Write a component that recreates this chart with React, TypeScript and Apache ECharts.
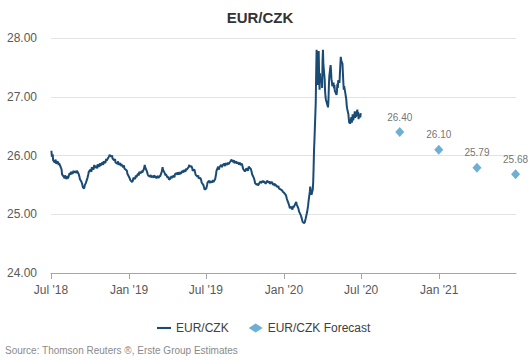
import React, { useEffect, useRef } from "react";
import * as echarts from "echarts";

const histDates: string[] = [
  "2018-07-02","2018-07-03","2018-07-05","2018-07-06","2018-07-10","2018-07-12","2018-07-13","2018-07-17","2018-07-19","2018-07-20",
  "2018-07-24","2018-07-26","2018-07-27","2018-07-31","2018-08-02","2018-08-03","2018-08-07","2018-08-09","2018-08-10","2018-08-14",
  "2018-08-16","2018-08-17","2018-08-21","2018-08-23","2018-08-24","2018-08-28","2018-08-30","2018-08-31","2018-09-04","2018-09-06",
  "2018-09-07","2018-09-11","2018-09-13","2018-09-14","2018-09-17","2018-09-19","2018-09-21","2018-09-25","2018-09-27","2018-09-28",
  "2018-10-02","2018-10-04","2018-10-05","2018-10-09","2018-10-11","2018-10-12","2018-10-16","2018-10-18","2018-10-19","2018-10-23",
  "2018-10-25","2018-10-26","2018-10-30","2018-11-01","2018-11-02","2018-11-06","2018-11-08","2018-11-09","2018-11-13","2018-11-15",
  "2018-11-16","2018-11-20","2018-11-22","2018-11-23","2018-11-27","2018-11-29","2018-11-30","2018-12-04","2018-12-06","2018-12-07",
  "2018-12-11","2018-12-13","2018-12-14","2018-12-18","2018-12-20","2018-12-21","2018-12-27","2018-12-28","2019-01-02","2019-01-04",
  "2019-01-08","2019-01-10","2019-01-11","2019-01-15","2019-01-17","2019-01-18","2019-01-22","2019-01-24","2019-01-25","2019-01-29",
  "2019-01-31","2019-02-01","2019-02-05","2019-02-07","2019-02-08","2019-02-12","2019-02-14","2019-02-15","2019-02-19","2019-02-21",
  "2019-02-22","2019-02-26","2019-02-28","2019-03-01","2019-03-05","2019-03-07","2019-03-08","2019-03-12","2019-03-14","2019-03-15",
  "2019-03-19","2019-03-21","2019-03-22","2019-03-26","2019-03-28","2019-03-29","2019-04-02","2019-04-04","2019-04-05","2019-04-09",
  "2019-04-11","2019-04-12","2019-04-16","2019-04-18","2019-04-19","2019-04-23","2019-04-25","2019-04-26","2019-04-30","2019-05-02",
  "2019-05-03","2019-05-07","2019-05-09","2019-05-10","2019-05-14","2019-05-16","2019-05-17","2019-05-21","2019-05-23","2019-05-24",
  "2019-05-28","2019-05-30","2019-05-31","2019-06-04","2019-06-06","2019-06-07","2019-06-11","2019-06-13","2019-06-14","2019-06-18",
  "2019-06-20","2019-06-21","2019-06-25","2019-06-27","2019-06-28","2019-07-02","2019-07-04","2019-07-05","2019-07-09","2019-07-11",
  "2019-07-12","2019-07-16","2019-07-18","2019-07-19","2019-07-23","2019-07-25","2019-07-26","2019-07-30","2019-08-01","2019-08-02",
  "2019-08-06","2019-08-08","2019-08-09","2019-08-13","2019-08-15","2019-08-16","2019-08-20","2019-08-22","2019-08-23","2019-08-27",
  "2019-08-29","2019-08-30","2019-09-03","2019-09-05","2019-09-06","2019-09-10","2019-09-12","2019-09-13","2019-09-17","2019-09-19",
  "2019-09-20","2019-09-24","2019-09-26","2019-09-27","2019-10-01","2019-10-03","2019-10-04","2019-10-08","2019-10-10","2019-10-11",
  "2019-10-15","2019-10-17","2019-10-18","2019-10-22","2019-10-24","2019-10-25","2019-10-29","2019-10-31","2019-11-01","2019-11-05",
  "2019-11-07","2019-11-08","2019-11-12","2019-11-14","2019-11-15","2019-11-19","2019-11-21","2019-11-22","2019-11-26","2019-11-28",
  "2019-11-29","2019-12-03","2019-12-05","2019-12-06","2019-12-10","2019-12-12","2019-12-13","2019-12-17","2019-12-19","2019-12-20",
  "2019-12-27","2019-12-30","2020-01-02","2020-01-06","2020-01-08","2020-01-10","2020-01-13","2020-01-15","2020-01-17","2020-01-21",
  "2020-01-23","2020-01-24","2020-01-28","2020-01-30","2020-01-31","2020-02-04","2020-02-06","2020-02-10","2020-02-12","2020-02-14",
  "2020-02-17","2020-02-19","2020-02-21","2020-02-25","2020-02-27","2020-02-28","2020-03-02","2020-03-03","2020-03-05","2020-03-06",
  "2020-03-09","2020-03-10","2020-03-11","2020-03-12","2020-03-13","2020-03-16","2020-03-17","2020-03-18","2020-03-19","2020-03-20",
  "2020-03-23","2020-03-24","2020-03-25","2020-03-26","2020-03-27","2020-03-30","2020-03-31","2020-04-01","2020-04-02","2020-04-03",
  "2020-04-06","2020-04-07","2020-04-08","2020-04-09","2020-04-14","2020-04-15","2020-04-16","2020-04-17","2020-04-20","2020-04-21",
  "2020-04-22","2020-04-23","2020-04-24","2020-04-27","2020-04-28","2020-04-29","2020-04-30","2020-05-04","2020-05-05","2020-05-06",
  "2020-05-07","2020-05-08","2020-05-11","2020-05-12","2020-05-13","2020-05-14","2020-05-15","2020-05-18","2020-05-19","2020-05-20",
  "2020-05-21","2020-05-22","2020-05-25","2020-05-26","2020-05-27","2020-05-28","2020-05-29","2020-06-01","2020-06-02","2020-06-03",
  "2020-06-04","2020-06-05","2020-06-08","2020-06-09","2020-06-10","2020-06-11","2020-06-12","2020-06-15","2020-06-16","2020-06-17",
  "2020-06-18","2020-06-19","2020-06-22","2020-06-23","2020-06-24","2020-06-25","2020-06-26","2020-06-29","2020-06-30"
];

const histValues: number[] = [
  26.08,25.98,26.02,25.92,25.88,25.93,25.86,25.90,25.84,25.87,
  25.80,25.76,25.68,25.64,25.61,25.66,25.60,25.65,25.61,25.70,
  25.67,25.72,25.69,25.74,25.71,25.73,25.70,25.74,25.69,25.64,
  25.60,25.55,25.50,25.46,25.44,25.50,25.53,25.62,25.68,25.72,
  25.76,25.72,25.80,25.76,25.84,25.79,25.82,25.78,25.85,25.81,
  25.87,25.83,25.88,25.84,25.90,25.87,25.94,25.91,25.96,25.99,
  26.01,25.98,26.00,25.95,25.92,25.94,25.88,25.86,25.90,25.84,
  25.87,25.82,25.85,25.80,25.83,25.78,25.74,25.69,25.62,25.58,
  25.55,25.57,25.62,25.60,25.66,25.63,25.69,25.66,25.72,25.70,
  25.74,25.71,25.77,25.84,25.80,25.73,25.68,25.66,25.64,25.67,
  25.63,25.65,25.62,25.66,25.63,25.61,25.65,25.62,25.66,25.64,
  25.72,25.80,25.76,25.70,25.66,25.68,25.62,25.64,25.59,25.61,
  25.65,25.62,25.66,25.63,25.68,25.70,25.67,25.71,25.68,25.72,
  25.69,25.74,25.71,25.75,25.73,25.78,25.76,25.80,25.84,25.81,
  25.82,25.78,25.74,25.76,25.70,25.67,25.64,25.66,25.61,25.62,
  25.58,25.54,25.50,25.45,25.42,25.44,25.50,25.54,25.57,25.53,
  25.56,25.54,25.58,25.55,25.60,25.68,25.74,25.81,25.76,25.80,
  25.84,25.80,25.83,25.86,25.82,25.87,25.84,25.88,25.85,25.89,
  25.91,25.93,25.89,25.92,25.87,25.90,25.86,25.89,25.85,25.88,
  25.84,25.86,25.80,25.77,25.73,25.75,25.78,25.74,25.81,25.80,
  25.77,25.72,25.68,25.62,25.57,25.53,25.50,25.52,25.49,25.54,
  25.56,25.53,25.57,25.54,25.56,25.52,25.55,25.57,25.54,25.56,
  25.52,25.55,25.53,25.50,25.52,25.48,25.50,25.46,25.48,25.44,
  25.41,25.38,25.36,25.32,25.26,25.22,25.16,25.10,25.13,25.08,
  25.14,25.12,25.18,25.21,25.17,25.10,25.04,24.98,24.93,24.87,
  24.85,24.86,24.92,25.05,25.15,25.22,25.38,25.47,25.36,25.33,
  25.42,25.55,25.80,26.10,26.27,26.90,27.40,27.80,27.55,27.20,
  27.78,27.35,27.12,27.40,27.25,27.30,27.15,27.60,27.80,27.55,
  27.30,27.10,27.00,26.95,26.82,26.95,27.20,27.35,27.54,27.45,
  27.30,27.26,27.18,27.24,27.14,27.20,27.10,27.03,27.10,27.22,
  27.15,27.28,27.24,27.40,27.55,27.68,27.62,27.56,27.40,27.25,
  27.12,27.18,27.05,27.00,26.95,26.85,26.80,26.70,26.62,26.55,
  26.58,26.54,26.65,26.56,26.62,26.70,26.60,26.68,26.75,26.64,
  26.72,26.66,26.78,26.68,26.74,26.62,26.70,26.65,26.72
];

const forecastDates: string[] = ["2020-09-30", "2020-12-31", "2021-03-31", "2021-06-30"];
const forecastValues: number[] = [26.4, 26.1, 25.79, 25.68];

const xTickDates: string[] = ["2018-07-01", "2019-01-01", "2019-07-01", "2020-01-01", "2020-07-01", "2021-01-01"];
const xTickLabels: string[] = ["Jul '18", "Jan '19", "Jul '19", "Jan '20", "Jul '20", "Jan '21"];
const yTicks: number[] = [24, 25, 26, 27, 28];

const FONT = "'Liberation Sans', Arial, sans-serif";

function toTs(s: string): number {
  const [y, m, d] = s.split("-").map(Number);
  return Date.UTC(y, m - 1, d);
}

export default function App() {
  const ref = useRef<HTMLDivElement>(null);
  useEffect(() => {
    if (!ref.current) return;
    const chart = echarts.init(ref.current, null, { renderer: "svg" });
    const tickTs = xTickDates.map(toTs);
    const labelMap: Record<string, string> = {};
    tickTs.forEach((t, i) => (labelMap[String(t)] = xTickLabels[i]));
    chart.setOption({
      animation: false,
      textStyle: { fontFamily: FONT },
      graphic: [
        {
          type: "text",
          x: 260,
          y: 17,
          style: {
            text: "EUR/CZK",
            fontSize: 15,
            fontWeight: "bold",
            fontFamily: FONT,
            fill: "#333333",
            align: "center",
            verticalAlign: "middle",
          },
        },
        {
          type: "text",
          x: 5,
          y: 350,
          style: {
            text: "Source: Thomson Reuters \u00ae, Erste Group Estimates",
            fontSize: 10,
            fontFamily: FONT,
            fill: "#8a8a8a",
            align: "left",
            verticalAlign: "middle",
          },
        },
      ],
      grid: { left: 51, right: 16, top: 38, bottom: 87, containLabel: false },
      legend: {
        left: 152,
        top: 317,
        itemGap: 20,
        itemWidth: 14,
        itemHeight: 9,
        textStyle: { fontSize: 12, color: "#404040", fontFamily: FONT },
        data: [
          { name: "EUR/CZK", icon: "path://M0,0H20V3H0Z" },
          { name: "EUR/CZK Forecast", icon: "diamond" },
        ],
      },
      xAxis: {
        type: "value",
        min: toTs("2018-07-01"),
        max: toTs("2021-07-01"),
        scale: true,
        splitLine: { show: false },
        axisLine: { show: true, onZero: false, lineStyle: { color: "#a6a6a6", width: 1 } },
        axisTick: { show: true, length: 6, lineStyle: { color: "#a6a6a6" }, customValues: tickTs },
        axisLabel: {
          customValues: tickTs,
          formatter: (v: number) => labelMap[String(v)] ?? "",
          fontSize: 12,
          color: "#595959",
          margin: 11,
          fontFamily: FONT,
        },
      },
      yAxis: {
        type: "value",
        min: yTicks[0],
        max: yTicks[yTicks.length - 1],
        interval: 1,
        axisLine: { show: false },
        axisTick: { show: false },
        splitLine: { lineStyle: { color: "#e3e3e3", width: 1 } },
        axisLabel: {
          formatter: (v: number) => v.toFixed(2),
          fontSize: 12,
          color: "#595959",
          margin: 14,
          fontFamily: FONT,
        },
      },
      series: [
        {
          name: "EUR/CZK",
          type: "line",
          symbol: "none",
          data: histDates.map((d, i) => [toTs(d), histValues[i]]),
          lineStyle: { color: "#1a4b75", width: 2 },
          itemStyle: { color: "#1a4b75" },
        },
        {
          name: "EUR/CZK Forecast",
          type: "scatter",
          symbol: "diamond",
          symbolSize: [9, 10],
          clip: false,
          data: forecastDates.map((d, i) => [toTs(d), forecastValues[i]]),
          itemStyle: { color: "#4a9bc8" },
          label: {
            show: true,
            position: "top",
            distance: 5,
            fontSize: 10,
            color: "#4d4d4d",
            fontFamily: FONT,
            formatter: (p: any) => Number(p.value[1]).toFixed(2),
          },
        },
      ],
    });
    return () => chart.dispose();
  }, []);
  return (
    <div
      ref={ref}
      style={{ position: "fixed", left: 0, top: 0, width: 532, height: 360, background: "#ffffff" }}
    />
  );
}
